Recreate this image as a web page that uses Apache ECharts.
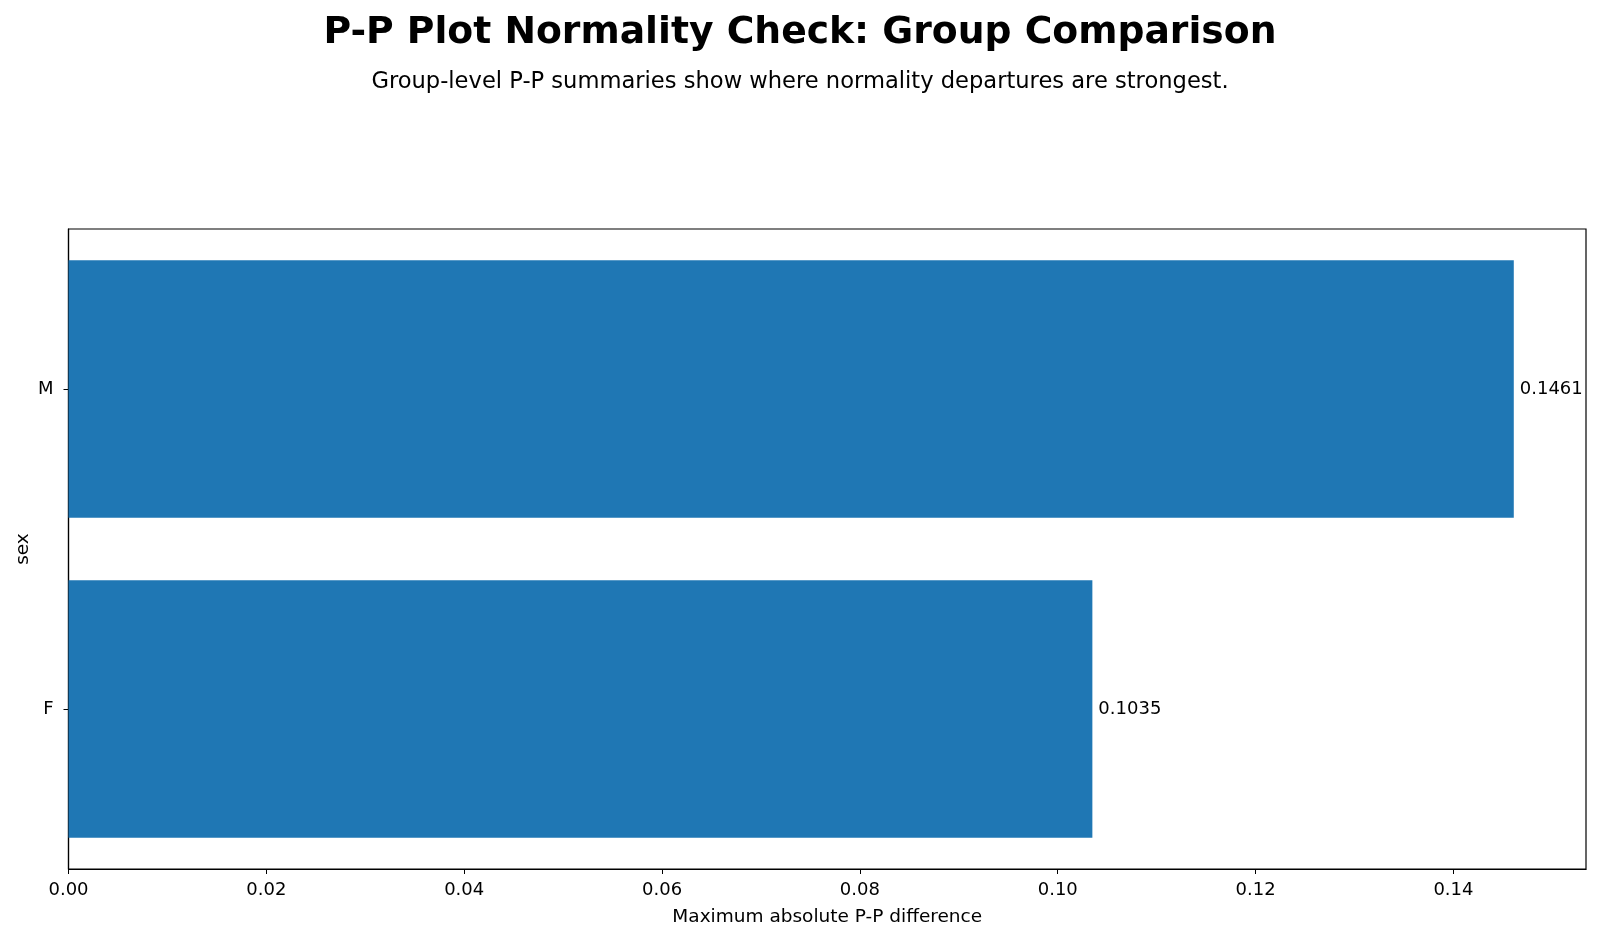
<!DOCTYPE html>
<html>
<head>
<meta charset="utf-8">
<script src="https://cdn.jsdelivr.net/npm/echarts@6/dist/echarts.min.js"></script>
<style>html,body{margin:0;padding:0;background:#fff}#c{width:1600px;height:939px}</style>
</head>
<body>
<div id="c"></div>
<script>
const categories = ['F', 'M'];
const values = [0.1035, 0.1461];
const xTicks = [0, 0.02, 0.04, 0.06, 0.08, 0.10, 0.12, 0.14];
const xMax = 0.1534;
const titleText = 'P-P Plot Normality Check: Group Comparison';
const subtitleText = 'Group-level P-P summaries show where normality departures are strongest.';
const xName = 'Maximum absolute P-P difference';
const yName = 'sex';

const font = 'DejaVu Sans';
const chart = echarts.init(document.getElementById('c'), null, {renderer: 'canvas'});
chart.setOption({
  animation: false,
  backgroundColor: '#fff',
  title: [
    {text: titleText, left: 'center', top: 9, textStyle: {fontFamily: font, fontSize: 37.7, fontWeight: 'bold', color: '#000'}},
    {text: subtitleText, left: 'center', top: 66, textStyle: {fontFamily: font, fontSize: 22.6, fontWeight: 'normal', color: '#000'}}
  ],
  grid: {left: 68.5, right: 14, top: 229, bottom: 70, show: true, borderColor: '#000', borderWidth: 1.2, containLabel: false},
  xAxis: {
    type: 'value', min: 0, max: xMax,
    name: xName, nameLocation: 'middle', nameGap: 39,
    nameTextStyle: {fontFamily: font, fontSize: 18.5, color: '#000'},
    axisLine: {show: true, lineStyle: {color: '#000', width: 1.2}},
    axisTick: {show: true, customValues: xTicks, length: 5, lineStyle: {color: '#000', width: 1}},
    axisLabel: {customValues: xTicks, formatter: v => v.toFixed(2), fontFamily: font, fontSize: 18, color: '#000', margin: 12},
    splitLine: {show: false}
  },
  yAxis: {
    type: 'category', data: categories,
    name: yName, nameLocation: 'middle', nameGap: 36, nameRotate: 90, nameMoveOverlap: false,
    nameTextStyle: {fontFamily: font, fontSize: 18.5, color: '#000'},
    axisLine: {show: true, lineStyle: {color: '#000', width: 1.2}},
    axisTick: {show: true, alignWithLabel: true, length: 5, lineStyle: {color: '#000', width: 1}},
    axisLabel: {fontFamily: font, fontSize: 18, color: '#000', margin: 15},
    splitLine: {show: false}
  },
  series: [{
    type: 'bar', data: values, barCategoryGap: '19.5%',
    itemStyle: {color: '#1f77b4'},
    label: {show: true, position: 'right', distance: 6, formatter: p => p.value.toFixed(4), fontFamily: font, fontSize: 18, color: '#000'}
  }]
});
</script>
</body>
</html>
